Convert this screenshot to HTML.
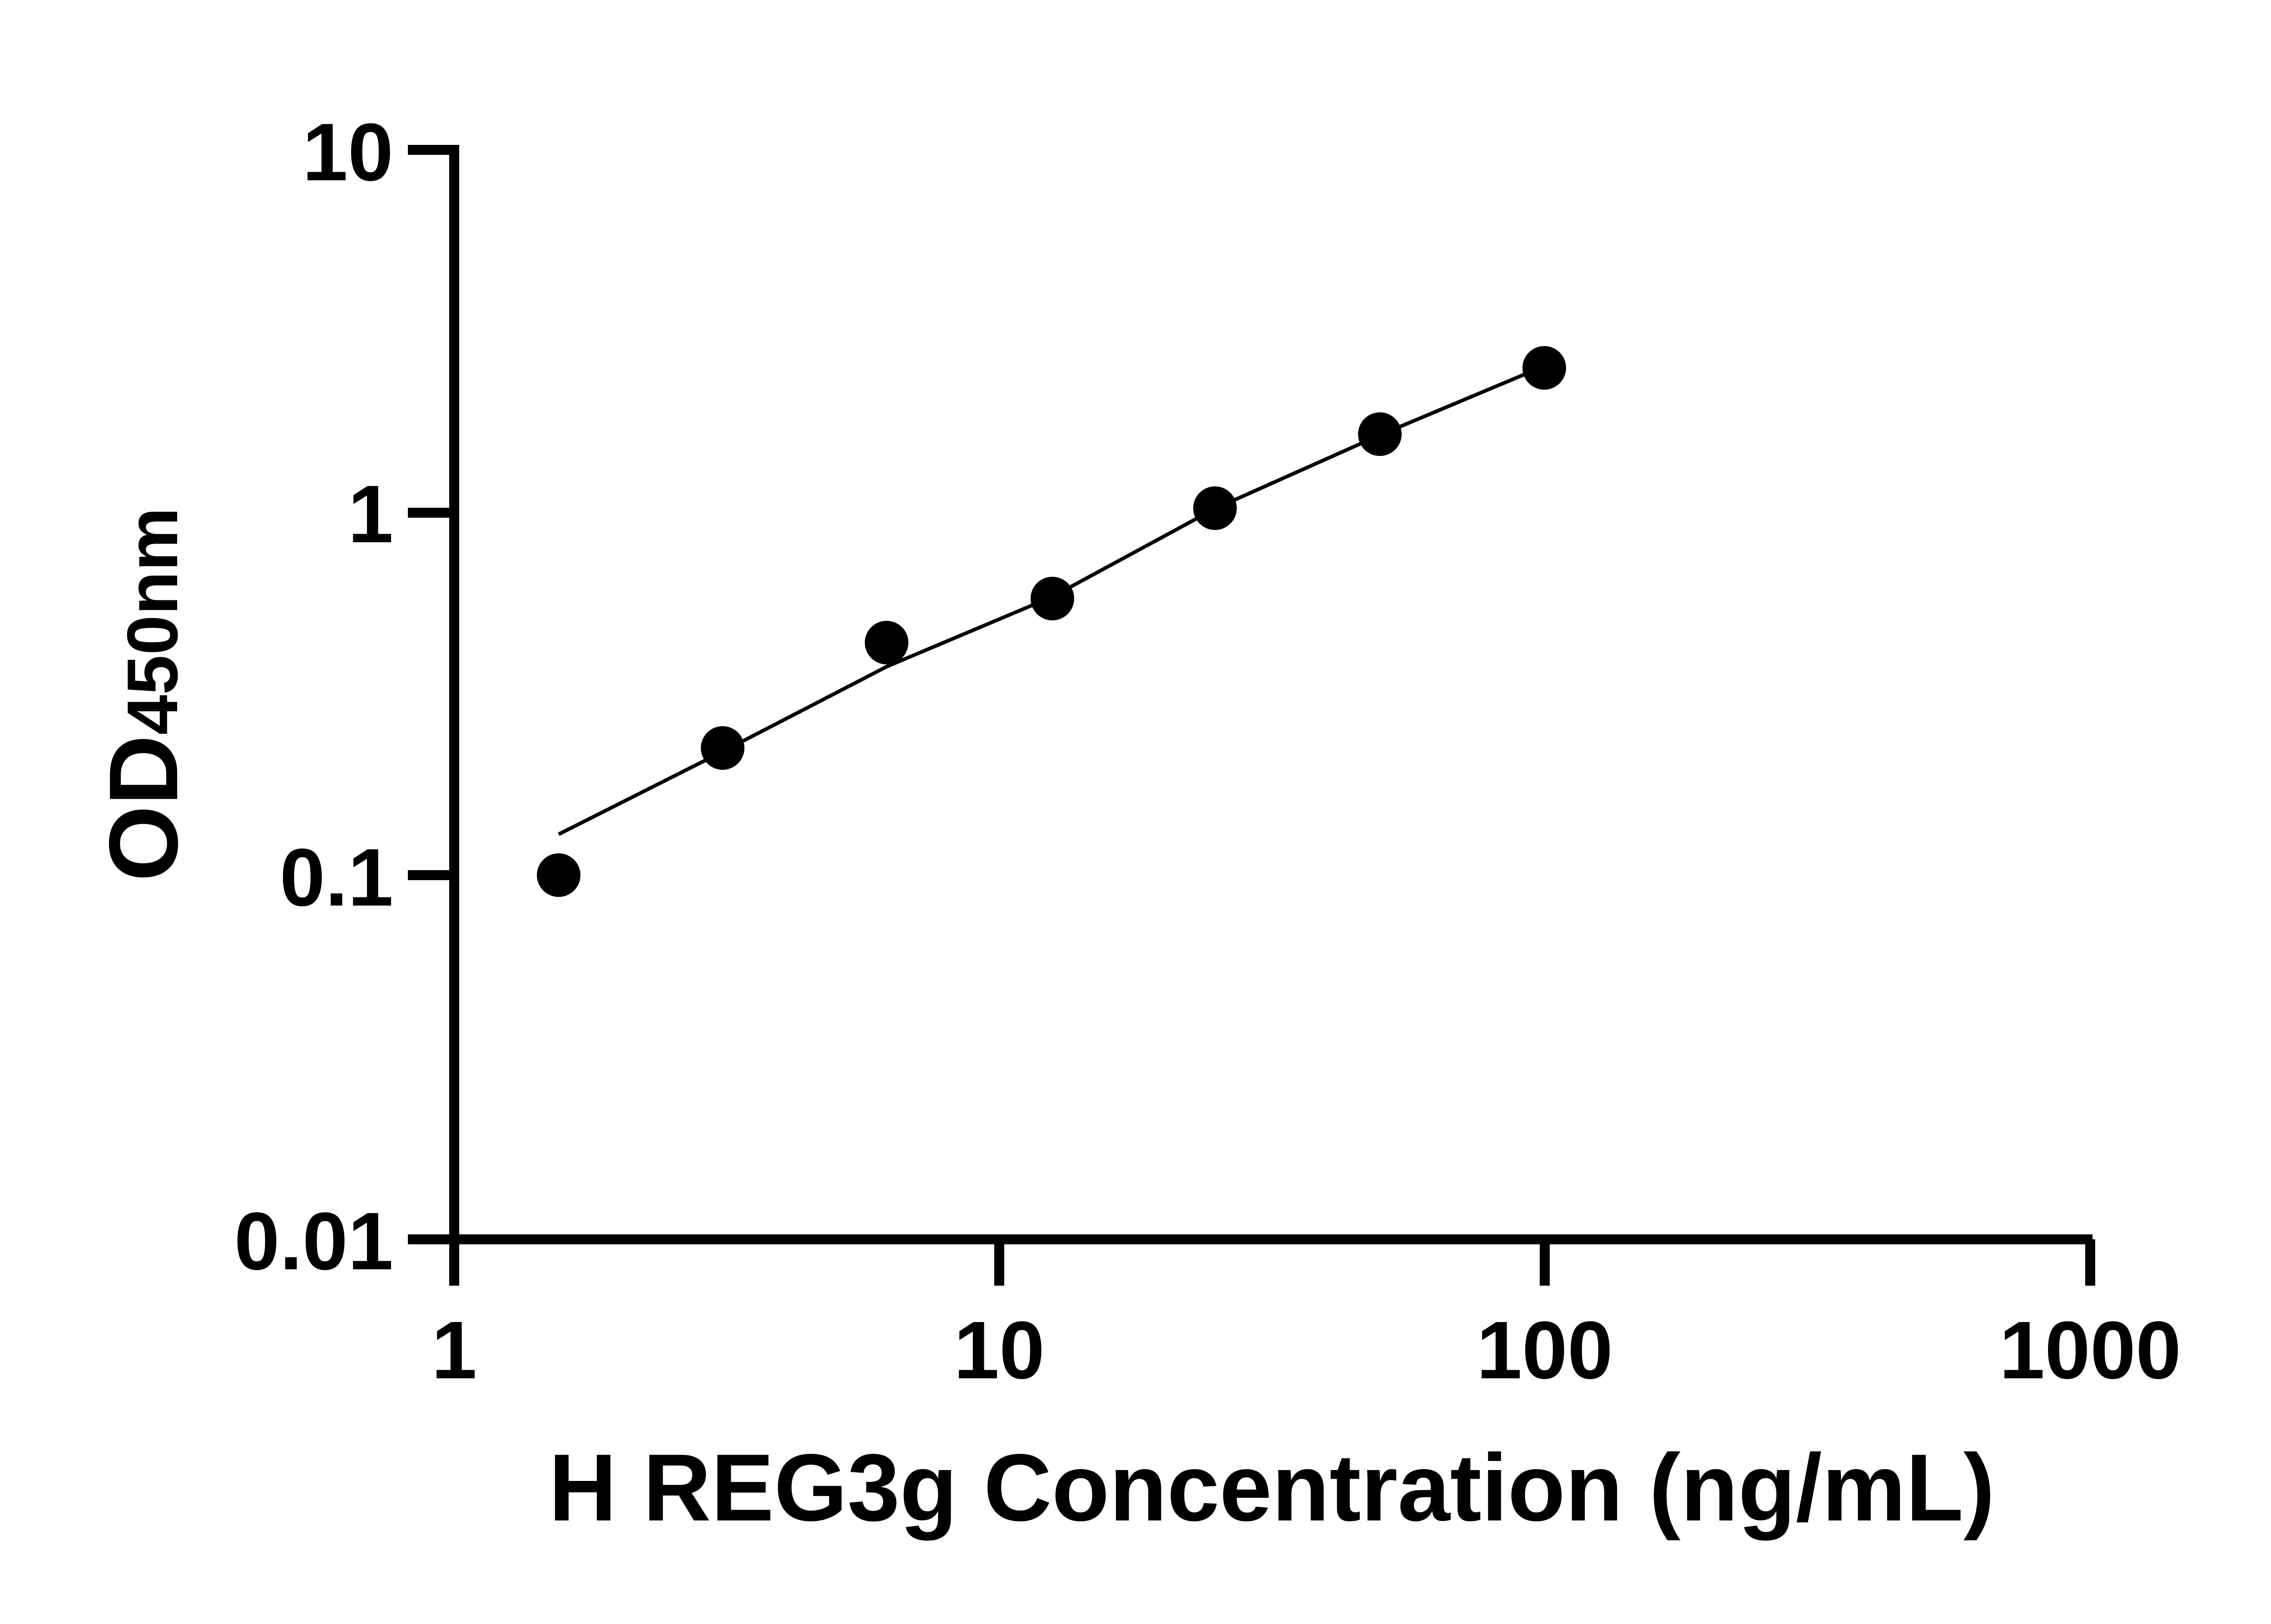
<!DOCTYPE html>
<html><head><meta charset="utf-8"><style>html,body{margin:0;padding:0;background:#fff}svg{display:block}</style></head>
<body>
<svg width="5170" height="3576" viewBox="0 0 5170 3576" xmlns="http://www.w3.org/2000/svg">
<rect width="5170" height="3576" fill="#fff"/>
<g stroke="#000" stroke-width="22" fill="none">
<line x1="1000" y1="319" x2="1000" y2="2831"/>
<line x1="898" y1="2729" x2="4607" y2="2729"/>
<line x1="898" y1="330" x2="1000" y2="330"/>
<line x1="898" y1="1129" x2="1000" y2="1129"/>
<line x1="898" y1="1927" x2="1000" y2="1927"/>
<line x1="2200" y1="2729" x2="2200" y2="2831"/>
<line x1="3401" y1="2729" x2="3401" y2="2831"/>
<line x1="4602" y1="2729" x2="4602" y2="2831"/>
</g>
<polyline points="1230,1837 1591,1655 1952,1468 2317,1314 2675,1120 3038,958 3355,825" stroke="#000" stroke-width="8" fill="none"/>
<g fill="#000">
<circle cx="1230" cy="1927" r="48"/>
<circle cx="1591" cy="1647" r="48"/>
<circle cx="1952" cy="1415" r="48"/>
<circle cx="2317" cy="1318" r="48"/>
<circle cx="2675" cy="1119" r="48"/>
<circle cx="3038" cy="956" r="48"/>
<circle cx="3400" cy="810" r="48"/>
</g>
<g font-family="Liberation Sans, sans-serif" font-weight="bold" font-size="180" fill="#000">
<text x="866" y="397" text-anchor="end">10</text>
<text x="866" y="1194" text-anchor="end">1</text>
<text x="866" y="1994" text-anchor="end">0.1</text>
<text x="866" y="2795" text-anchor="end">0.01</text>
<text x="1000" y="3035" text-anchor="middle">1</text>
<text x="2200" y="3035" text-anchor="middle">10</text>
<text x="3401" y="3035" text-anchor="middle">100</text>
<text x="4602" y="3035" text-anchor="middle">1000</text>
</g>
<text x="1208" y="3348" font-family="Liberation Sans, sans-serif" font-weight="bold" font-size="210" textLength="3184" lengthAdjust="spacingAndGlyphs">H REG3g Concentration (ng/mL)</text>
<text transform="translate(390,1941) rotate(-90)" font-family="Liberation Sans, sans-serif" font-weight="bold" font-size="215" textLength="824" lengthAdjust="spacingAndGlyphs">OD<tspan font-size="158">450nm</tspan></text>
</svg>
</body></html>
